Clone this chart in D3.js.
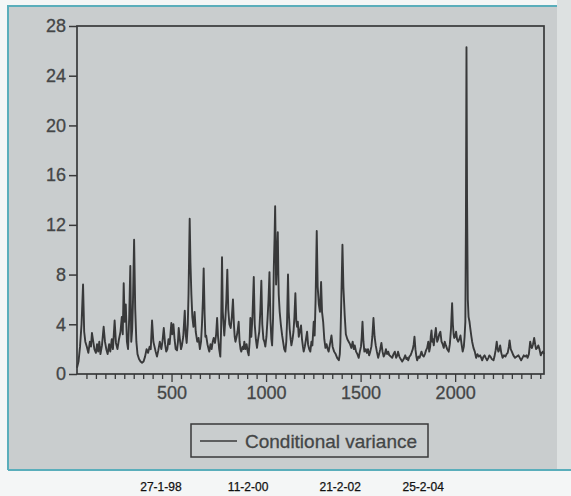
<!DOCTYPE html>
<html>
<head>
<meta charset="utf-8">
<script src="https://cdn.jsdelivr.net/npm/d3@7"></script>
<style>
  body { margin: 0; background: #ffffff; }
  text { font-family: "Liberation Sans", Arial, sans-serif; }
</style>
</head>
<body>
<svg id="chart" width="571" height="496"></svg>
<script>
var obs = [0,8,16,24,32,38,44,52,60,68,74,79,86,92,100,106,112,118,124,132,141,148,155,162,170,176,184,190,199,206,214,222,230,237,242,247,252,258,264,270,276,282,287,292,296,302,308,314,320,328,336,344,352,360,368,376,384,390,397,404,410,416,423,430,438,446,452,459,466,472,478,484,490,499,504,510,516,522,529,534,538,544,550,555,562,570,575,580,586,590,596,600,605,610,616,622,628,636,643,650,656,661,666,670,675,679,683,690,696,700,706,712,718,723,730,736,741,746,752,758,762,767,771,775,779,785,790,795,800,806,813,819,825,830,834,838,844,849,855,860,865,869,876,881,885,891,897,903,908,913,917,922,928,935,940,946,952,958,964,970,975,980,986,991,996,1002,1008,1013,1018,1023,1028,1032,1037,1041,1045,1048,1051,1053,1057,1062,1065,1067,1072,1078,1085,1090,1096,1102,1107,1111,1116,1120,1125,1130,1134,1140,1145,1150,1155,1160,1164,1168,1173,1178,1185,1190,1195,1199,1205,1211,1217,1222,1228,1234,1240,1245,1252,1257,1262,1268,1273,1279,1285,1291,1296,1302,1308,1314,1320,1326,1331,1338,1346,1352,1360,1368,1376,1385,1390,1393,1398,1404,1409,1416,1422,1430,1437,1444,1451,1458,1464,1469,1476,1483,1490,1496,1502,1506,1510,1515,1520,1527,1533,1539,1545,1551,1557,1562,1568,1574,1580,1586,1593,1598,1604,1610,1616,1622,1628,1634,1640,1646,1652,1660,1667,1674,1681,1688,1694,1698,1705,1712,1720,1728,1736,1742,1746,1752,1758,1764,1769,1776,1781,1785,1790,1795,1799,1806,1812,1818,1822,1828,1834,1840,1846,1852,1858,1863,1868,1871,1875,1879,1883,1887,1892,1898,1902,1905,1910,1916,1922,1928,1934,1940,1945,1951,1958,1966,1972,1978,1984,1988,1992,1995,2000,2005,2010,2016,2022,2028,2034,2040,2046,2050,2054,2057,2060,2063,2067,2071,2076,2080,2086,2090,2097,2104,2111,2118,2125,2132,2138,2143,2150,2156,2162,2169,2176,2181,2187,2194,2203,2208,2214,2220,2225,2229,2234,2238,2244,2251,2258,2266,2272,2278,2284,2288,2294,2300,2308,2317,2326,2335,2342,2349,2356,2363,2370,2377,2383,2390,2397,2402,2406,2412,2418,2423,2428,2434,2440,2446,2453,2458,2464,2470];
var condVariance = [0.5,1.0,2.2,4.0,7.2,3.4,2.6,2.2,1.7,2.6,2.2,3.3,2.6,2.0,1.7,2.4,1.8,2.6,1.6,2.3,3.8,2.6,2.0,1.6,2.4,1.8,2.8,2.0,4.3,2.5,2.0,2.8,3.4,4.6,3.2,7.3,4.2,5.6,2.6,2.0,4.5,8.7,2.6,3.6,5.8,10.8,5.2,2.6,1.6,1.2,1.0,0.9,1.0,1.4,2.0,1.7,2.2,2.0,4.3,2.6,2.2,1.8,1.4,1.9,2.6,2.0,2.6,3.7,2.4,1.8,2.0,2.8,2.4,4.1,3.2,4.0,2.8,2.0,1.9,2.6,3.7,2.8,2.0,2.3,3.0,5.1,3.2,2.5,4.0,6.5,12.5,9.0,6.4,4.6,3.8,5.0,3.4,2.6,2.9,2.0,2.6,4.0,6.0,8.5,4.8,3.0,3.1,2.4,2.0,1.8,2.4,2.0,2.6,2.9,2.5,3.2,4.5,3.0,2.0,1.4,3.5,9.4,5.0,4.0,3.1,4.5,6.0,8.4,5.2,4.0,3.7,4.6,6.0,4.0,3.0,2.6,3.0,3.4,4.2,2.6,2.0,1.8,2.2,2.0,2.6,2.0,2.4,1.8,1.5,2.6,4.5,3.0,4.6,7.8,4.0,2.8,2.1,2.8,3.4,5.2,7.5,4.0,2.8,2.6,2.2,3.0,4.5,6.0,8.2,4.4,2.8,2.3,4.5,8.6,11.0,13.5,10.0,7.2,9.0,11.4,8.0,6.4,5.0,4.0,3.1,2.6,2.0,1.8,2.6,4.2,8.0,5.0,3.6,2.8,2.3,2.8,3.4,4.6,6.5,4.2,3.8,4.2,3.0,3.4,3.9,2.8,2.2,1.8,2.2,2.8,3.4,2.4,2.0,1.8,2.6,2.3,4.2,3.1,6.0,11.5,7.0,5.6,5.0,7.4,5.0,4.2,2.8,2.1,2.4,2.0,1.8,2.4,3.1,2.2,1.8,1.6,1.3,1.1,1.6,2.6,6.0,10.4,7.0,4.7,3.2,2.8,2.6,2.4,2.1,2.6,2.0,2.3,1.8,1.6,1.3,1.8,2.2,3.0,4.2,2.6,1.8,2.0,1.7,2.0,1.5,1.8,2.2,3.0,4.5,3.0,2.3,1.8,1.3,1.6,2.0,2.5,1.8,1.4,1.6,2.0,1.6,1.8,1.5,1.4,1.3,1.6,1.8,1.3,1.5,1.8,1.4,1.2,1.0,1.2,1.5,1.2,1.3,1.1,1.4,1.5,1.7,2.0,2.4,3.0,2.0,1.4,1.1,1.4,1.3,1.6,1.8,1.5,1.4,1.6,1.9,2.1,2.6,1.8,2.2,3.0,3.5,2.6,2.8,2.3,3.0,3.7,3.0,2.6,2.8,3.2,3.4,2.6,2.4,2.1,2.6,2.3,2.0,1.8,2.4,3.6,5.7,4.0,3.2,2.9,3.0,3.4,2.8,2.6,2.8,3.1,2.4,1.8,2.2,3.0,4.2,12.0,26.3,14.0,6.0,4.6,4.2,3.7,3.0,2.6,2.1,1.8,1.3,1.6,1.4,1.5,1.3,1.1,1.4,1.5,1.3,1.1,1.3,1.5,1.4,1.2,1.1,1.4,1.9,2.6,2.0,1.8,2.0,2.3,1.7,1.3,1.5,1.4,1.6,1.7,2.2,2.7,2.0,1.8,1.5,1.3,1.4,1.5,1.3,1.1,1.3,1.5,1.4,1.5,1.3,1.6,2.6,2.2,2.1,2.4,2.9,2.4,2.0,2.1,2.3,2.0,1.5,1.7,1.8,1.6];

var yTicks = [0, 4, 8, 12, 16, 20, 24, 28];
var xMajor = [500, 1000, 1500, 2000];
// date captions printed under the figure, placed at the observation they belong to
var dateObs = [444, 905, 1392, 1831];
var dateText = ["27-1-98", "11-2-00", "21-2-02", "25-2-04"];
var seriesName = "Conditional variance";

var svg = d3.select("#chart");
var lineColor = "#38393a", textColor = "#444647";

// scanned page: grey panel with a teal edge, white strip below
svg.append("rect").attr("x", 0).attr("y", 0).attr("width", 571).attr("height", 496).attr("fill", "#f4f6f6");
svg.append("rect").attr("x", 557).attr("y", 0).attr("width", 14).attr("height", 470).attr("fill", "#dde1e1");
svg.append("rect").attr("x", 8).attr("y", 6).attr("width", 549).attr("height", 464).attr("fill", "#c9cdce");
svg.append("path").attr("d", "M8,470V6H557").attr("fill", "none").attr("stroke", "#5aaebb").attr("stroke-width", 2);
svg.append("line").attr("x1", 8).attr("x2", 571).attr("y1", 470).attr("y2", 470)
  .attr("stroke", "#5aaebb").attr("stroke-width", 2);

var xScale = d3.scaleLinear().domain([0, 2470]).range([77, 544]);
var yScale = d3.scaleLinear().domain([0, 28]).range([374, 26]);

var yAxis = svg.append("g")
  .attr("transform", "translate(77,0)")
  .call(d3.axisLeft(yScale).tickValues(yTicks).tickSize(8).tickPadding(3));
yAxis.select(".domain").remove();
yAxis.selectAll("line").attr("stroke", lineColor).attr("stroke-width", 1.5);
yAxis.selectAll("text").attr("fill", textColor).attr("stroke", textColor).attr("stroke-width", 0.3)
  .style("font-size", "18px")
  .style("font-family", "'Liberation Sans', Arial, sans-serif");

var xAxis = svg.append("g")
  .attr("transform", "translate(0,374)")
  .call(d3.axisBottom(xScale).tickValues(d3.range(50, 2470, 50)).tickSize(5).tickPadding(6)
    .tickFormat(function(d) { return xMajor.indexOf(d) >= 0 ? d : ""; }));
xAxis.select(".domain").remove();
xAxis.selectAll("line").attr("stroke", lineColor).attr("stroke-width", 1.3)
  .attr("y2", function(d) { return xMajor.indexOf(d) >= 0 ? 8 : 5; });
xAxis.selectAll("text").attr("fill", textColor).attr("stroke", textColor).attr("stroke-width", 0.3)
  .attr("y", 12).style("font-size", "18px")
  .style("font-family", "'Liberation Sans', Arial, sans-serif");

// plot frame
svg.append("rect")
  .attr("x", xScale(0)).attr("y", yScale(28))
  .attr("width", xScale(2470) - xScale(0)).attr("height", yScale(0) - yScale(28))
  .attr("fill", "none").attr("stroke", lineColor).attr("stroke-width", 1.7);

var varianceLine = d3.line()
  .x(function(d, i) { return xScale(obs[i]); })
  .y(function(d) { return yScale(d); });

svg.append("path")
  .attr("d", varianceLine(condVariance))
  .attr("fill", "none")
  .attr("stroke", lineColor)
  .attr("stroke-width", 1.9)
  .attr("stroke-linejoin", "round");

// legend
var legend = svg.append("g");
legend.append("rect").attr("x", 191).attr("y", 424).attr("width", 237).attr("height", 33)
  .attr("fill", "none").attr("stroke", lineColor).attr("stroke-width", 1.5);
legend.append("line").attr("x1", 200).attr("x2", 237).attr("y1", 441).attr("y2", 441)
  .attr("stroke", lineColor).attr("stroke-width", 1.5);
legend.append("text").attr("x", 245).attr("y", 448)
  .attr("fill", textColor).attr("stroke", textColor).attr("stroke-width", 0.3)
  .style("font-size", "19px")
  .attr("textLength", 172).attr("lengthAdjust", "spacingAndGlyphs")
  .text(seriesName);

// dates under the figure
svg.selectAll(".date")
  .data(dateText)
  .enter().append("text")
  .attr("class", "date")
  .attr("x", function(d, i) { return xScale(dateObs[i]); })
  .attr("y", 491)
  .attr("text-anchor", "middle")
  .attr("fill", "#111")
  .attr("stroke", "#111").attr("stroke-width", 0.25)
  .style("font-size", "12px")
  .text(function(d) { return d; });
</script>
</body>
</html>
